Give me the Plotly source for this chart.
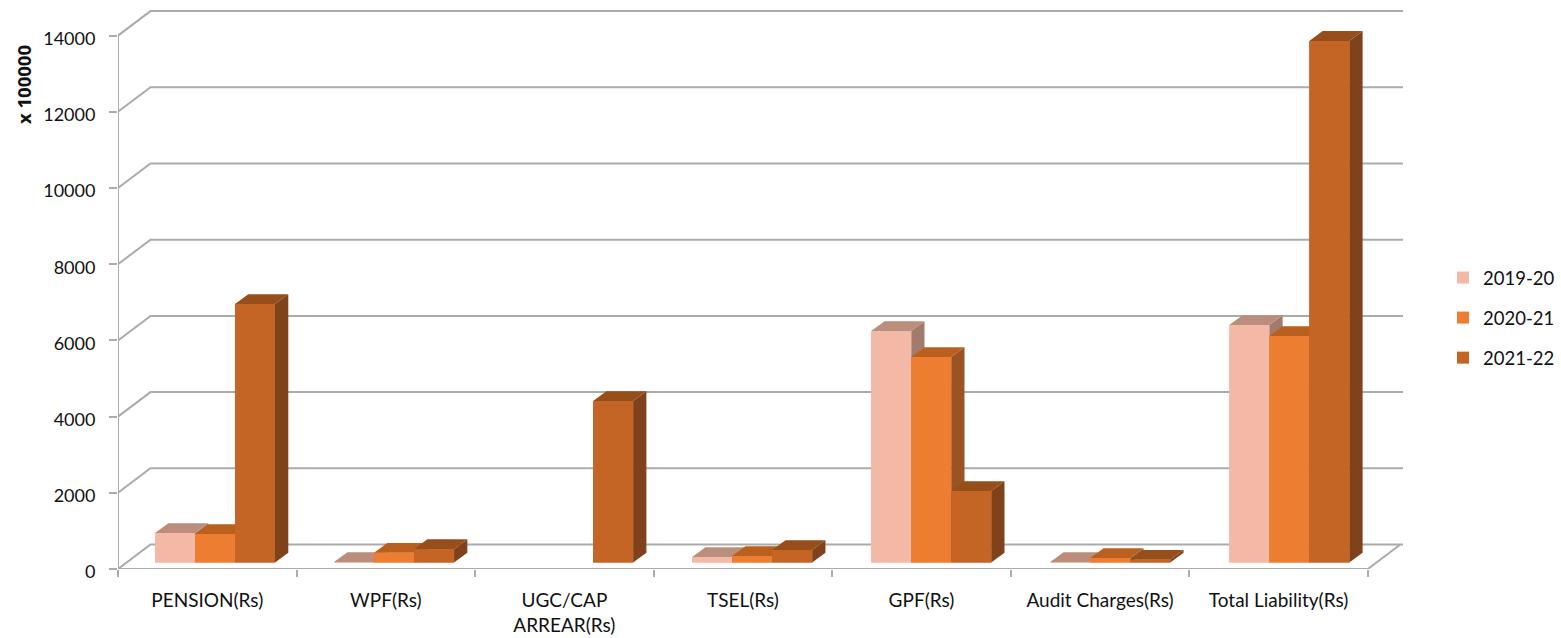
import plotly.graph_objects as go

categories = ["PENSION(Rs)", "WPF(Rs)", "UGC/CAP<br>ARREAR(Rs)", "TSEL(Rs)", "GPF(Rs)", "Audit Charges(Rs)", "Total Liability(Rs)"]
series_names = ["2019-20", "2020-21", "2021-22"]
values_2019_20 = [775, 10, None, 145, 6075, 10, 6235]
values_2020_21 = [750, 255, None, 170, 5395, 115, 5945]
values_2021_22 = [6785, 350, 4240, 330, 1875, 70, 13690]
y_ticks = [0, 2000, 4000, 6000, 8000, 10000, 12000, 14000]

FRONT = ["#F4B9A6", "#ED7D31", "#C46526"]
TOP = ["#BB8D7D", "#B9601F", "#964E1A"]
SIDE = ["#A27B6E", "#9A5422", "#7F421A"]
GRID = "#ABABAB"
FONT = "Lato"

# pixel calibration of the two linear scales
PX_X, PX_Y = 178.55, 0.0381          # px per category, px per value unit
L, R, T, B = 118, 1403, 8, 569
x_max = (R - L) / PX_X
y_max = (B - T) / PX_Y
wall_dx, wall_dy = 32.5 / PX_X, 24.5 / PX_Y
bar_w = 40 / PX_X
bar_pitch = 179.05 / PX_X
bar_dx, bar_dy = 13.3 / PX_X, 9.8 / PX_Y
bar_start, bar_base = (155 - L) / PX_X, 6.5 / PX_Y

all_values = [values_2019_20, values_2020_21, values_2021_22]
fig = go.Figure()

# bars carrying the values (front faces and legend)
for s, (name, vals) in enumerate(zip(series_names, all_values)):
    xs = [bar_start + c * bar_pitch + (s + 0.5) * bar_w for c in range(len(categories))]
    fig.add_trace(go.Bar(x=xs, y=vals, base=bar_base, width=bar_w, name=name,
                         legendgroup=name, marker=dict(color=FRONT[s], line=dict(width=0)),
                         hovertemplate=name + ": %{y}<extra></extra>"))

# depth faces, painted back to front, series by series
def face_trace(xs, ys, color):
    fig.add_trace(go.Scatter(x=xs, y=ys, mode="lines", fill="toself", fillcolor=color,
                             line=dict(width=0, color=color), hoverinfo="skip", showlegend=False))

for s, vals in enumerate(all_values):
    side_x, side_y, top_x, top_y, front_x, front_y = [], [], [], [], [], []
    for c, v in enumerate(vals):
        if v is None:
            continue
        x0 = bar_start + c * bar_pitch + s * bar_w
        x1 = x0 + bar_w
        y0 = bar_base
        y1 = bar_base + v
        side_x += [x1, x1, x1 + bar_dx, x1 + bar_dx, x1, None]
        side_y += [y0, y1, y1 + bar_dy, y0 + bar_dy, y0, None]
        top_x += [x0, x1, x1 + bar_dx, x0 + bar_dx, x0, None]
        top_y += [y1, y1, y1 + bar_dy, y1 + bar_dy, y1, None]
        front_x += [x0, x1, x1, x0, x0, None]
        front_y += [y0, y0, y1, y1, y0, None]
    face_trace(side_x, side_y, SIDE[s])
    face_trace(top_x, top_y, TOP[s])
    face_trace(front_x, front_y, FRONT[s])

# walls: gridlines and floor, behind every trace
line = dict(color=GRID, width=2)
for v in y_ticks:
    path = f"M 0 {v} L {wall_dx} {v + wall_dy} L {x_max} {v + wall_dy}"
    fig.add_shape(type="path", path=path, xref="x", yref="y", line=line, layer="below")
n = len(categories)
fig.add_shape(type="path", path=f"M 0 0 L {n} 0 L {n + wall_dx} {wall_dy}",
              xref="x", yref="y", line=line, layer="below")
fig.add_shape(type="line", x0=0, x1=0, y0=0, y1=y_ticks[-1], xref="x", yref="y", line=line, layer="below")

fig.add_annotation(text="<b>x 100000</b>", textangle=-90, xref="paper", yref="paper",
                   x=(24 - L) / (R - L), y=(B - 85) / (B - T), xanchor="center", yanchor="middle",
                   showarrow=False, font=dict(family="Open Sans", size=18.5, color="#111111"))

fig.update_layout(
    width=1561, height=638, margin=dict(l=L, r=1561 - R, t=T, b=638 - B, autoexpand=False),
    paper_bgcolor="white", plot_bgcolor="white", barmode="overlay",
    font=dict(family=FONT, size=18.5, color="#111111"),
    legend=dict(x=(1443 - L) / (R - L), xanchor="left", y=(B - 318) / (B - T), yanchor="middle",
                tracegroupgap=13, traceorder="grouped", font=dict(family=FONT, size=18.5, color="#111111")),
    xaxis=dict(range=[0, x_max], tickmode="array", tickvals=[c + 0.5 for c in range(n)], ticktext=categories,
               ticks="", showgrid=False, zeroline=False, showline=False, ticklabelstandoff=18, automargin=False,
               minor=dict(tickmode="array", tickvals=list(range(n + 1)), ticks="outside", ticklen=7,
                          tickwidth=2, tickcolor=GRID, showgrid=False),
               tickfont=dict(family=FONT, size=19)),
    yaxis=dict(range=[0, y_max], tickmode="array", tickvals=y_ticks, ticks="outside", ticklen=8,
               tickwidth=2, tickcolor=GRID, showgrid=False, zeroline=False, showline=False, automargin=False,
               ticklabelstandoff=10, ticklabelshift=3, tickfont=dict(family=FONT, size=18), tickformat="d"),
)

fig.write_html("out.html", config={"displayModeBar": False},
               post_script="document.body.style.margin='0';document.body.style.overflow='hidden';")
